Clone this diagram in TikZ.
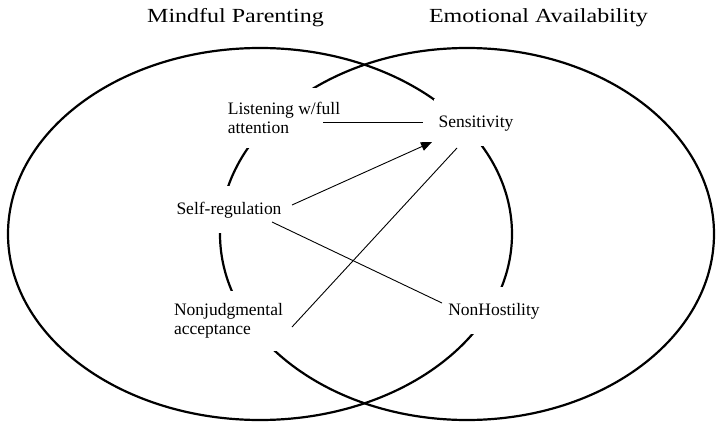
\documentclass[tikz,border=0pt]{standalone}
\usepackage{fontspec}
\setmainfont{Liberation Serif}
\newfontfamily\titlefont[FakeStretch=1.2]{Liberation Serif}
\usetikzlibrary{calc,arrows.meta}
\begin{document}
\begin{tikzpicture}[x=1pt,y=-1pt,
  ring/.style={line width=2.2pt},
  lbl/.style={fill=white, font=\fontsize{17.5}{19}\selectfont, inner xsep=5pt},
  single/.style={lbl, text height=12.5pt, text depth=4pt, inner ysep=15.25pt},
  double/.style={lbl, align=left, inner ysep=10pt, minimum height=60pt},
  title/.style={font=\titlefont\fontsize{20}{24}\selectfont, inner sep=0pt},
  link/.style={line width=0.9pt},
]
\useasboundingbox (0,0) rectangle (716,423);
\draw[ring] (260,234) ellipse [x radius=252pt, y radius=186pt];
\draw[ring] (467,234) ellipse [x radius=247pt, y radius=186pt];
\node[title, anchor=base] (mp) at (235.5,23) {Mindful Parenting};
\node[title, anchor=base] (ea) at (538.5,23) {Emotional Availability};
\node[single, anchor=base] (sen) at (476,127) {Sensitivity};
\node[single, anchor=base] (self) at (229,214) {Self-regulation};
\node[single, anchor=base] (nonh) at (494,315) {NonHostility};
\node[double] (lis) at (284,117.5) {Listening w/full\\attention};
\node[double] (nonj) at (228.5,320.5) {Nonjudgmental\\acceptance};
\draw[link] ($(lis.center)+(39,4.5)$) -- ($(sen.center)+(-53,-0.75)$);
\draw[link, -{Triangle[length=11pt,width=9pt]}] ($(self.center)+(63,-4.75)$) -- ($(sen.center)+(-44,19.25)$);
\draw[link] ($(nonj.center)+(63.5,6.5)$) -- ($(sen.center)+(-19,25.25)$);
\draw[link] ($(self.center)+(43,12.25)$) -- ($(nonh.center)+(-52,-7.75)$);
\end{tikzpicture}
\end{document}
